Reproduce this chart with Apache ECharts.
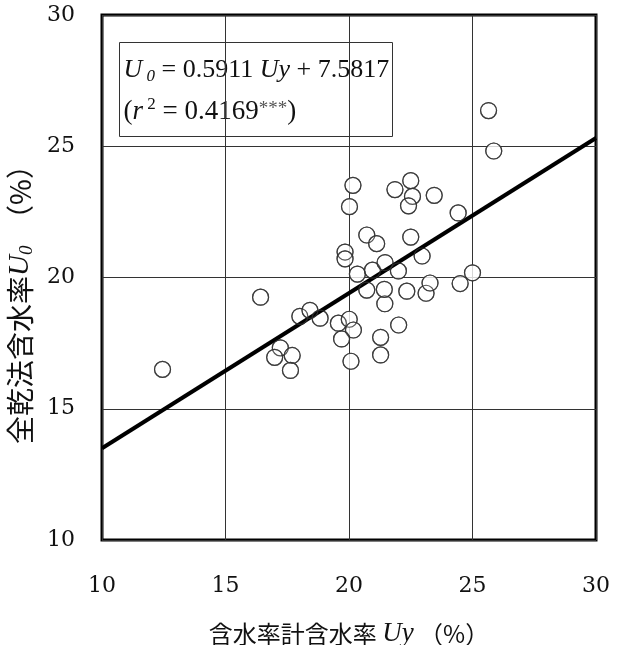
<!DOCTYPE html>
<html>
<head>
<meta charset="utf-8">
<script src="https://cdn.jsdelivr.net/npm/echarts@6/dist/echarts.min.js"></script>
<style>
html,body{margin:0;padding:0;background:#fff;}
#c{width:617px;height:645px;}
</style>
</head>
<body>
<div id="c"></div>
<script>
// Measured points: Uy (含水率計含水率) and U0 (全乾法含水率)
const uy = [12.45,16.42,17.22,16.99,17.70,17.63,18.01,18.42,18.83,19.57,20.01,20.18,19.70,20.08,21.28,21.28,22.01,21.45,20.72,21.43,22.34,23.12,23.28,24.50,25.00,20.34,20.95,22.00,21.46,22.96,19.84,19.84,20.72,21.12,22.50,24.42,20.02,20.16,21.86,22.50,22.57,22.41,23.45,25.65,25.86];
const u0 = [16.50,19.25,17.32,16.96,17.03,16.46,18.52,18.75,18.45,18.26,18.41,18.00,17.66,16.81,17.72,17.05,18.19,19.00,19.52,19.55,19.48,19.40,19.79,19.77,20.18,20.13,20.28,20.25,20.57,20.82,20.97,20.71,21.62,21.29,21.54,22.46,22.70,23.51,23.35,23.69,23.09,22.73,23.13,26.36,24.82];
// Regression U0 = 0.5911 Uy + 7.5817
const slope = 0.5911, intercept = 7.5817;
const fitX = [10, 30];
const xTicks = [10, 15, 20, 25, 30];
const yTicks = [10, 15, 20, 25, 30];

const pts = uy.map((x, i) => [x, u0[i]]);
const fit = fitX.map(x => [x, slope * x + intercept]);

const serif = '"DejaVu Serif", "Liberation Serif", serif';
const times = '"Liberation Serif", serif';
const cjk = '"Noto Sans CJK JP", "Noto Sans CJK SC", sans-serif';

const chart = echarts.init(document.getElementById('c'));
chart.setOption({
  animation: false,
  backgroundColor: '#fff',
  grid: { left: 102, right: 21, top: 15, bottom: 105, outerBoundsMode: 'none', containLabel: false,
          show: true, borderColor: '#000', borderWidth: 3, backgroundColor: 'transparent' },
  xAxis: {
    type: 'value', min: xTicks[0], max: xTicks[xTicks.length - 1], interval: 5,
    axisLine: { show: false }, axisTick: { show: false },
    splitLine: { show: true, lineStyle: { color: '#333', width: 1 } },
    axisLabel: { fontFamily: serif, fontSize: 22, color: '#111', margin: 35 },
    name: '{c|含水率計含水率 }{i|Uy}{c| （%）}',
    nameLocation: 'middle', nameGap: 80,
    nameTextStyle: {
      rich: {
        c: { fontFamily: cjk, fontSize: 24, color: '#111' },
        i: { fontFamily: times, fontStyle: 'italic', fontSize: 27, color: '#111' }
      }
    }
  },
  yAxis: {
    type: 'value', min: yTicks[0], max: yTicks[yTicks.length - 1], interval: 5,
    axisLine: { show: false }, axisTick: { show: false },
    splitLine: { show: true, lineStyle: { color: '#333', width: 1 } },
    axisLabel: { fontFamily: serif, fontSize: 22, color: '#111', margin: 27 },
    name: '{c|全乾法含水率}{i|U}{s|0}{c|  （%）}',
    nameLocation: 'middle', nameGap: 62, nameRotate: 90,
    nameTextStyle: {
      padding: [0, 40, 0, 0],
      rich: {
        c: { fontFamily: cjk, fontSize: 28, color: '#111' },
        i: { fontFamily: times, fontStyle: 'italic', fontSize: 29, color: '#111' },
        s: { fontFamily: times, fontStyle: 'italic', fontSize: 19, color: '#111', padding: [12, 0, 0, 0] }
      }
    }
  },
  graphic: [{
    type: 'group', left: 119, top: 42, z: 100,
    children: [
      { type: 'rect', shape: { x: 0, y: 0, width: 273, height: 94 }, style: { fill: '#fff', stroke: '#333', lineWidth: 1 } },
      { type: 'text', x: 4, y: 12, style: {
          text: '{i|U}{s| 0}{n| = 0.5911 }{i|Uy}{n| + 7.5817}',
          rich: {
            i: { fontFamily: times, fontStyle: 'italic', fontSize: 26, fill: '#111' },
            s: { fontFamily: times, fontStyle: 'italic', fontSize: 17, fill: '#111', padding: [14, 0, 0, 0] },
            n: { fontFamily: times, fontSize: 26, fill: '#111' }
          } } },
      { type: 'text', x: 4, y: 54, style: {
          text: '{n|(}{i|r}{p| 2}{n| = 0.4169}{a|***}{n|)}',
          rich: {
            i: { fontFamily: times, fontStyle: 'italic', fontSize: 27, fill: '#111' },
            p: { fontFamily: times, fontSize: 17, fill: '#111', padding: [0, 0, 14, 0] },
            n: { fontFamily: times, fontSize: 27, fill: '#111' },
            a: { fontFamily: times, fontSize: 19, fill: '#555', padding: [0, 0, 6, 0] }
          } } }
    ]
  }],
  series: [
    { type: 'scatter', data: pts, symbol: 'circle', symbolSize: 16, z: 2,
      itemStyle: { color: '#fff', borderColor: '#333', borderWidth: 1.2 }, silent: true },
    { type: 'line', data: fit, showSymbol: false, symbol: 'none', z: 3,
      lineStyle: { color: '#000', width: 4 } },
    { type: 'scatter', data: pts, symbol: 'circle', symbolSize: 16, z: 4,
      itemStyle: { color: 'rgba(255,255,255,0)', borderColor: '#333', borderWidth: 1.2 }, silent: true }
  ]
});
</script>
</body>
</html>
